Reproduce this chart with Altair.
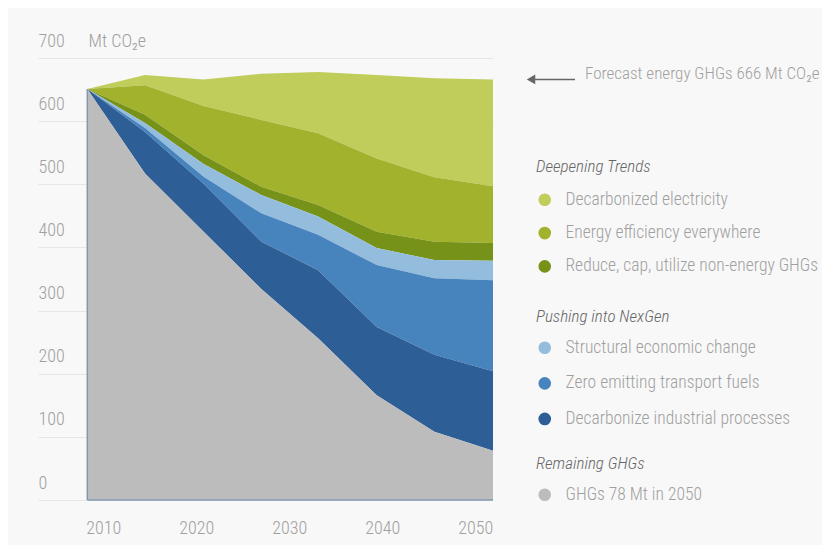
import altair as alt
import pandas as pd

# ---- data ----
years = [2008.3, 2014.5, 2020.8, 2027.0, 2033.1, 2039.4, 2045.6, 2051.9]
remaining = [651, 517, 425, 334, 256, 166, 108, 78]
industrial = [0, 66, 76, 75, 108, 108, 122, 126]
transport = [0, 6, 11, 45, 56, 98, 121, 144]
structural = [0, 8, 20, 29, 29, 27, 29, 31]
nonenergy = [0, 13, 14, 13, 18, 26, 29, 28]
efficiency = [0, 47, 78, 106, 114, 116, 102, 90]
electricity = [0, 16, 42, 73, 97, 132, 157, 169]

x_ticks = [2010, 2020, 2030, 2040, 2050]
y_ticks = [0, 100, 200, 300, 400, 500, 600, 700]
forecast_value = 666
forecast_text = "Forecast energy GHGs 666 Mt CO\u2082e"

groups = {
    "Deepening Trends": [
        ("Decarbonized electricity", electricity, "#c0cd5b"),
        ("Energy efficiency everywhere", efficiency, "#a2b22d"),
        ("Reduce, cap, utilize non-energy GHGs", nonenergy, "#779218"),
    ],
    "Pushing into NexGen": [
        ("Structural economic change", structural, "#94bcdd"),
        ("Zero emitting transport fuels", transport, "#4784be"),
        ("Decarbonize industrial processes", industrial, "#2e5e96"),
    ],
    "Remaining GHGs": [
        ("GHGs 78 Mt in 2050", remaining, "#bcbcbc"),
    ],
}
# stacking order bottom -> top
stack_order = [
    "GHGs 78 Mt in 2050",
    "Decarbonize industrial processes",
    "Zero emitting transport fuels",
    "Structural economic change",
    "Reduce, cap, utilize non-energy GHGs",
    "Energy efficiency everywhere",
    "Decarbonized electricity",
]

rows = []
for g, items in groups.items():
    for name, vals, _ in items:
        for yr, v in zip(years, vals):
            rows.append({"year": yr, "value": v, "series": name, "group": g,
                         "order": stack_order.index(name)})
df = pd.DataFrame(rows)

FONT = "Roboto Condensed, Liberation Sans Narrow, Arial Narrow, sans-serif"
LABEL_COLOR = "#a0a0a0"

xscale = alt.Scale(domain=[2003.0, 2051.9], nice=False, zero=False)
yscale = alt.Scale(domain=[0, 700], nice=False)

x_enc = alt.X("year:Q", scale=xscale,
              axis=alt.Axis(values=x_ticks, format="d", grid=False, ticks=False,
                            domain=False, labelFontSize=18, labelColor=LABEL_COLOR,
                            labelFont=FONT, labelFontWeight=300,
                            labelBaseline="alphabetic",
                            labelPadding=33, title=None))
y_enc = alt.Y("y0:Q", scale=yscale,
              axis=alt.Axis(values=y_ticks, grid=True, gridColor="#e6e6e6",
                            ticks=False, domain=False, labelAlign="left",
                            labelBaseline="alphabetic", labelPadding=0,
                            labelOffset=-12, labelFontSize=18,
                            labelColor=LABEL_COLOR, labelFont=FONT,
                            labelFontWeight=300,
                            title="Mt CO\u2082e", titleAngle=0, titleAlign="left",
                            titleBaseline="alphabetic", titleX=50, titleY=-12,
                            titleFontSize=18, titleFontWeight=300,
                            titleColor=LABEL_COLOR, titleFont=FONT))

base = alt.Chart(df).transform_stack(
    stack="value", groupby=["year"], as_=["y0", "y1"],
    sort=[alt.SortField("order", order="ascending")]
)

legend_pos = {
    "Deepening Trends": (101, 15, 14.3),
    "Pushing into NexGen": (251, 13, 16.6),
    "Remaining GHGs": (398, 13, 16),
}

layers = []
for g, items in groups.items():
    ly, tpad, rpad = legend_pos[g]
    names = [n for n, _, _ in items]
    cols = [c for _, _, c in items]
    layer = base.transform_filter(alt.datum.group == g).mark_area(
        interpolate="linear", opacity=1
    ).encode(
        x=x_enc,
        y=y_enc,
        y2="y1:Q",
        order=alt.Order("order:Q"),
        color=alt.Color("series:N",
                        scale=alt.Scale(domain=names, range=cols),
                        legend=alt.Legend(
                            title=g, orient="none", legendX=498, legendY=ly,
                            titleFontStyle="italic", titleFontWeight=300,
                            titleFontSize=17, titleColor="#666666", titleFont=FONT,
                            titlePadding=tpad, titleLimit=400,
                            labelFontSize=17.5, labelColor=LABEL_COLOR, labelFont=FONT,
                            labelFontWeight=300,
                            labelLimit=400, labelOffset=12,
                            symbolType="circle", symbolSize=160,
                            symbolStrokeWidth=0, symbolOpacity=1,
                            rowPadding=rpad, padding=0)),
    )
    layers.append(layer)

# slate edge lines on the left and bottom of the stacked area
edge_df = pd.DataFrame({
    "x": [years[0], years[0]],
    "x2": [years[0], years[-1]],
    "y": [0, 0],
    "y2": [remaining[0], 0],
})
edges = alt.Chart(edge_df).mark_rule(color="#8598b0", strokeWidth=1.5).encode(
    x=alt.X("x:Q", scale=xscale), x2="x2:Q",
    y=alt.Y("y:Q", scale=yscale), y2="y2:Q",
)

annot_df = pd.DataFrame({"value": [forecast_value], "label": [forecast_text]})
arrow_line = alt.Chart(annot_df).mark_rule(color="#666666", strokeWidth=1.4).encode(
    x=alt.value(492), x2=alt.value(537), y=alt.Y("value:Q", scale=yscale)
)
arrow_head = alt.Chart(annot_df).mark_point(
    shape="triangle-left", filled=True, color="#666666", size=95, opacity=1
).encode(x=alt.value(493), y=alt.Y("value:Q", scale=yscale))
annot_text = alt.Chart(annot_df).mark_text(
    align="left", baseline="middle", dy=-5, fontSize=17, font=FONT,
    fontWeight=300, color=LABEL_COLOR
).encode(x=alt.value(547), y=alt.Y("value:Q", scale=yscale), text="label:N")

chart = alt.layer(*layers, edges, arrow_line, arrow_head, annot_text).resolve_scale(
    color="independent"
).properties(
    width=455, height=442,
    autosize=alt.AutoSizeParams(type="none"),
    padding={"left": 30, "top": 50, "right": 329, "bottom": 45},
    background="#f8f8f8",
).configure_view(stroke=None)

chart.save("out.html", embed_options={"renderer": "svg", "actions": False})
